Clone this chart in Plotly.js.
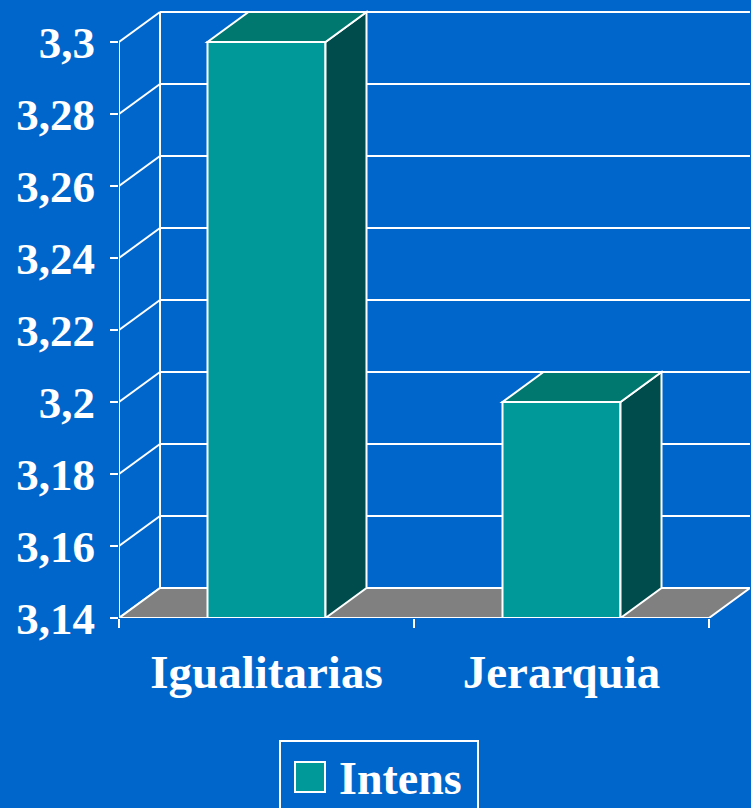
<!DOCTYPE html>
<html>
<head>
<meta charset="utf-8">
<script src="https://cdn.plot.ly/plotly-3.0.1.min.js"></script>
<style>html,body{margin:0;padding:0;background:#0066CC;}#chart{width:751px;height:808px;}</style>
</head>
<body>
<div id="chart"></div>
<script>
// ---- data ----
const categories = ["Igualitarias", "Jerarquia"];
const values = [3.30, 3.20];
const seriesName = "Intens";
const yTickVals = [3.14, 3.16, 3.18, 3.20, 3.22, 3.24, 3.26, 3.28, 3.30];
const yTickText = ["3,14", "3,16", "3,18", "3,2", "3,22", "3,24", "3,26", "3,28", "3,3"];

// ---- geometry / style ----
const W = 751, H = 808;
const mL = 119, mR = 1, mT = 9, mB = 190;
const plotW = W - mL - mR, plotH = H - mT - mB;
const pxPerCat = 295;            // pixels per category along x
const pxPerUnit = 72 / 0.02;      // pixels per value unit along y
const yMin = yTickVals[0], yMax = yTickVals[yTickVals.length - 1];
const xMax = plotW / pxPerCat;
const yTop = yMin + plotH / pxPerUnit;
const dxU = 41 / pxPerCat, dyU = 30 / pxPerUnit;   // 3D depth offset
const barW = 0.4;
const nCat = categories.length;
const centers = categories.map((c, i) => i + 0.5);

const BG = '#0066CC', FRONT = '#009999', TOP = '#00776F', SIDE = '#004C4C', FLOOR = '#808080', LINE = '#FFFFFF';
const FONT = 'Liberation Serif, Times New Roman, serif';

const shapes = [];
function line(x0, y0, x1, y1) {
  shapes.push({type: 'line', xref: 'x', yref: 'y', x0, y0, x1, y1, line: {color: LINE, width: 2}, layer: 'below'});
}
function poly(pts, fill, layer) {
  const d = pts.map((p, i) => (i ? 'L' : 'M') + p[0] + ',' + p[1]).join(' ') + ' Z';
  shapes.push({type: 'path', xref: 'x', yref: 'y', path: d, fillcolor: fill, line: {color: LINE, width: 2}, layer: layer || 'above'});
}

// back wall gridlines and left wall diagonals
yTickVals.forEach(v => {
  line(dxU, v + dyU, xMax + 0.05, v + dyU);
  line(0, v, dxU, v + dyU);
});
line(dxU, yMin + dyU, dxU, yMax + dyU);   // back-left edge
line(0, yMin, 0, yMax);                    // front value axis
// floor
poly([[0, yMin], [nCat, yMin], [nCat + dxU, yMin + dyU], [dxU, yMin + dyU]], FLOOR, 'below');

// bar side and top faces
const x0s = centers.map(c => c - barW / 2), x1s = centers.map(c => c + barW / 2);
values.forEach((v, i) => {
  poly([[x1s[i], yMin], [x1s[i], v], [x1s[i] + dxU, v + dyU], [x1s[i] + dxU, yMin + dyU]], SIDE);
  poly([[x0s[i], v], [x1s[i], v], [x1s[i] + dxU, v + dyU], [x0s[i] + dxU, v + dyU]], TOP);
});

// legend (custom, pixel placed)
const px = x => (x - mL) / plotW, py = y => (H - mB - y) / plotH;
shapes.push({type: 'rect', xref: 'paper', yref: 'paper', x0: px(280), x1: px(478), y0: py(741), y1: py(840),
  line: {color: LINE, width: 2}, fillcolor: 'rgba(0,0,0,0)'});
shapes.push({type: 'rect', xref: 'paper', yref: 'paper', x0: px(295), x1: px(325), y0: py(762), y1: py(792),
  line: {color: LINE, width: 2}, fillcolor: FRONT});

const traces = [{
  type: 'bar', x: centers, y: values.map(v => v - yMin), base: yMin, width: barW,
  name: seriesName, showlegend: false, hoverinfo: 'skip',
  marker: {color: FRONT, line: {color: LINE, width: 2}}
}];

const layout = {
  width: W, height: H,
  margin: {l: mL, r: mR, t: mT, b: mB, pad: 0},
  paper_bgcolor: BG, plot_bgcolor: BG,
  showlegend: false,
  xaxis: {
    range: [0, xMax], showgrid: false, zeroline: false, showline: false,
    tickvals: centers, ticktext: categories, ticks: '',
    ticklabelstandoff: 22,
    tickfont: {family: FONT, size: 47, color: '#FFFFFF', weight: 'bold'},
    minor: {tickvals: Array.from({length: nCat + 1}, (_, i) => i), ticks: 'outside', ticklen: 9, tickwidth: 2, tickcolor: LINE, showgrid: false},
    fixedrange: true
  },
  yaxis: {
    range: [yMin, yTop], showgrid: false, zeroline: false, showline: false,
    tickvals: yTickVals, ticktext: yTickText,
    ticks: 'outside', ticklen: 8, tickwidth: 2, tickcolor: LINE,
    ticklabelstandoff: 6,
    tickfont: {family: FONT, size: 45, color: '#FFFFFF', weight: 'bold'},
    fixedrange: true
  },
  shapes: shapes,
  annotations: [{
    xref: 'paper', yref: 'paper', x: px(337), y: py(778), xanchor: 'left', yanchor: 'middle',
    text: seriesName, showarrow: false,
    font: {family: FONT, size: 46, color: '#FFFFFF', weight: 'bold'}
  }]
};

Plotly.newPlot('chart', traces, layout, {displayModeBar: false, staticPlot: true});
</script>
</body>
</html>
